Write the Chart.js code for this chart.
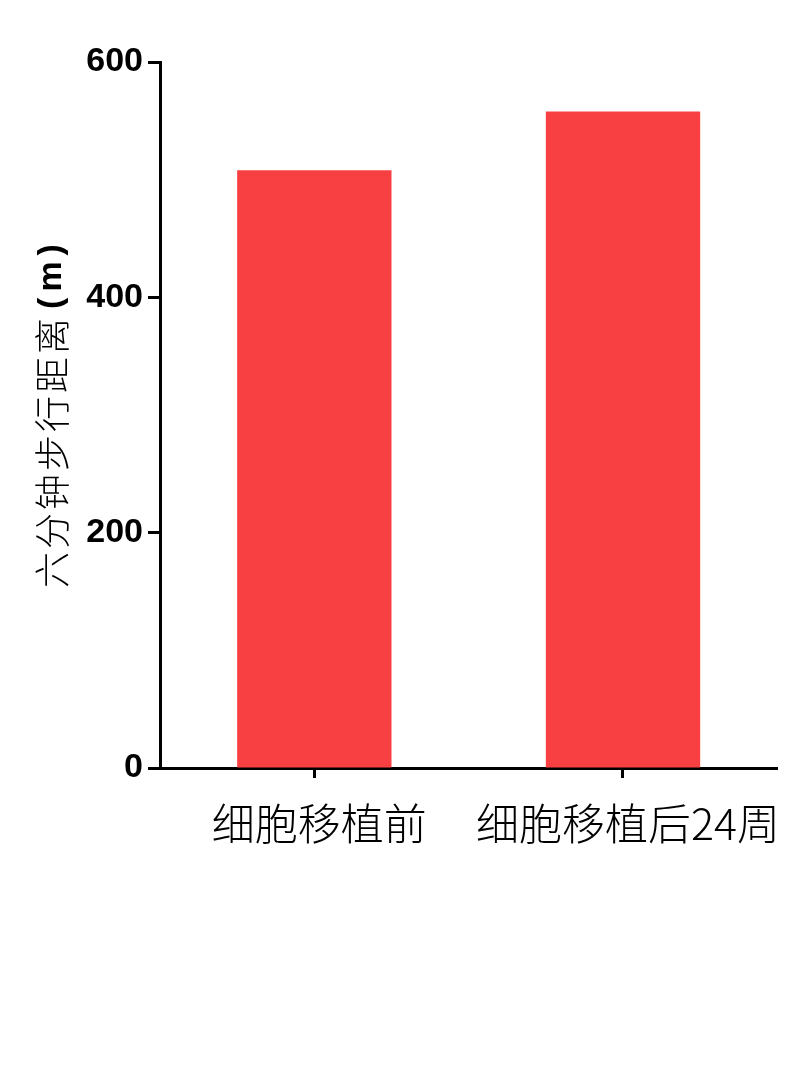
<!DOCTYPE html>
<html>
<head>
<meta charset="utf-8">
<script src="https://cdn.jsdelivr.net/npm/chart.js@4"></script>
<style>
html,body{margin:0;padding:0;background:#fff;}
#wrap{width:800px;height:1085px;}
</style>
</head>
<body>
<div id="wrap"><canvas id="c" width="800" height="1085"></canvas></div>
<script>
const categories = ['细胞移植前', '细胞移植后24周'];
const values = [508, 558];
const yTicks = [0, 200, 400, 600];
const yTitleMain = '六分钟步行距离';
const yTitleUnit = '(m)';

const titlePlugin = {
  id: 'ytitle',
  afterDraw(chart) {
    const ctx = chart.ctx;
    const area = chart.chartArea;
    const cy = (area.top + area.bottom) / 2;
    ctx.save();
    ctx.translate(52, cy);
    ctx.rotate(-Math.PI / 2);
    ctx.fillStyle = '#000';
    ctx.textBaseline = 'middle';
    const f1 = '300 36px "Noto Sans CJK SC"';
    const f2 = 'bold 34px "Liberation Sans", Arial';
    ctx.letterSpacing = '3px';
    ctx.font = f1;
    const w1 = ctx.measureText(yTitleMain).width + 2;
    ctx.letterSpacing = '6px';
    ctx.font = f2;
    const w2 = ctx.measureText(yTitleUnit).width;
    const x0 = -(w1 + w2) / 2;
    ctx.textAlign = 'left';
    ctx.letterSpacing = '3px';
    ctx.font = f1;
    ctx.fillText(yTitleMain, x0, 0);
    ctx.letterSpacing = '6px';
    ctx.font = f2;
    ctx.fillText(yTitleUnit, x0 + w1 + 4, 0);
    ctx.restore();
  }
};

new Chart(document.getElementById('c'), {
  type: 'bar',
  data: {
    labels: categories,
    datasets: [{
      data: values,
      backgroundColor: 'rgb(248,64,66)',
      borderWidth: 0,
      barPercentage: 0.5,
      categoryPercentage: 1.0
    }]
  },
  options: {
    responsive: false,
    animation: false,
    devicePixelRatio: 1,
    layout: { padding: { top: 62, right: 20, left: 0, bottom: 0 } },
    plugins: { legend: { display: false }, tooltip: { enabled: false } },
    scales: {
      x: {
        offset: true,
        grid: { offset: false, drawOnChartArea: false, drawTicks: true, tickLength: 10, tickWidth: 3, color: '#000' },
        border: { display: true, width: 3, color: '#000' },
        ticks: { color: '#000', padding: 20, maxRotation: 0, autoSkip: false, labelOffset: 5,
          font: { family: '"Noto Sans CJK SC"', size: 43, weight: '300' } },
        afterFit(scale) { scale.height = 1085 - 768; }
      },
      y: {
        min: 0, max: 600,
        afterBuildTicks(scale) { scale.ticks = yTicks.map(v => ({ value: v })); },
        grid: { drawOnChartArea: false, drawTicks: true, tickLength: 12, tickWidth: 3, color: '#000' },
        border: { display: true, width: 3, color: '#000' },
        ticks: { color: '#000', padding: 5,
          font: { family: '"Liberation Sans", Arial', size: 34, weight: 'bold' } },
        afterFit(scale) { scale.width = 160; }
      }
    }
  },
  plugins: [titlePlugin]
});
</script>
</body>
</html>
